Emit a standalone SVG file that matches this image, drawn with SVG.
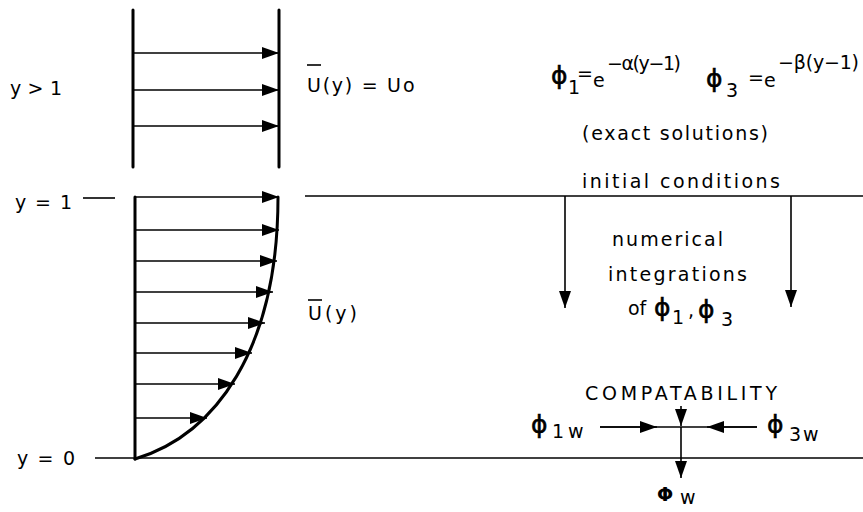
<svg xmlns="http://www.w3.org/2000/svg" width="863" height="512" viewBox="0 0 863 512">
<defs>
<marker id="ah" markerUnits="userSpaceOnUse" markerWidth="18" markerHeight="13" refX="17" refY="6" orient="auto">
<path d="M0,0 L17,6 L0,12 z" fill="#000"/>
</marker>
<style>
text{font-family:"DejaVu Sans","Liberation Sans",sans-serif;fill:#000;font-size:19px}
.phi{font-family:"DejaVu Sans",sans-serif;font-size:25px;stroke:#000;stroke-width:0.6}
.thick{stroke:#000;stroke-width:3;fill:none;stroke-linecap:round}
.thin{stroke:#000;stroke-width:1.6;fill:none}
.arr{stroke:#000;stroke-width:1.6;fill:none;marker-end:url(#ah)}
</style>
</defs>
<rect width="863" height="512" fill="#fff"/>

<g id="upper-region">
<line class="thick" x1="133" y1="10" x2="133" y2="167"/>
<line class="thick" x1="279" y1="10" x2="279" y2="167"/>
<line class="arr" x1="133" y1="53" x2="279" y2="53"/>
<line class="arr" x1="133" y1="90" x2="279" y2="90"/>
<line class="arr" x1="133" y1="126" x2="279" y2="126"/>
<text x="10" y="95" textLength="52" lengthAdjust="spacing">y &gt; 1</text>
<text x="307" y="92" textLength="94" lengthAdjust="spacing">U(y) = U</text><text x="403" y="92" font-size="16">o</text>
<line class="thin" x1="307" y1="65" x2="321" y2="65"/>
</g>

<g id="profile">
<line class="thick" x1="135" y1="197" x2="135" y2="459"/>
<path class="thick" d="M135,459 C215,435 278,350 278,197"/>
<line class="arr" x1="135" y1="197" x2="279" y2="197"/>
<line class="arr" x1="135" y1="230" x2="279" y2="230"/>
<line class="arr" x1="135" y1="261" x2="277" y2="261"/>
<line class="arr" x1="135" y1="292" x2="273" y2="292"/>
<line class="arr" x1="135" y1="323" x2="265" y2="323"/>
<line class="arr" x1="135" y1="353" x2="252" y2="353"/>
<line class="arr" x1="135" y1="384" x2="235" y2="384"/>
<line class="arr" x1="135" y1="418" x2="207" y2="418"/>
<text x="308" y="320" textLength="49" lengthAdjust="spacing">U(y)</text>
<line class="thin" x1="308" y1="300" x2="322" y2="300"/>
</g>

<g id="levels">
<text x="15" y="209" textLength="57" lengthAdjust="spacing">y = 1</text>
<line class="thin" x1="83" y1="198" x2="115" y2="198"/>
<text x="17" y="465" textLength="58" lengthAdjust="spacing">y = 0</text>
<line class="thin" x1="95" y1="458" x2="863" y2="458"/>
<line class="thin" x1="305" y1="196" x2="863" y2="196"/>
</g>

<g id="exact-solutions">
<text class="phi" x="551" y="84">ϕ</text><text x="568" y="94" font-size="14">1</text>
<text x="577" y="80" font-size="13">=</text>
<text x="593" y="87" font-size="21">e</text>
<text x="607" y="70" font-size="17" textLength="74" lengthAdjust="spacing">−α(y−1)</text>
<text class="phi" x="706" y="87">ϕ</text><text x="726" y="97" font-size="17">3</text>
<text x="748" y="84" font-size="13">=</text>
<text x="764" y="87" font-size="21">e</text>
<text x="778" y="69" font-size="17" textLength="81" lengthAdjust="spacing">−β(y−1)</text>
<text x="582" y="140" textLength="186" lengthAdjust="spacing">(exact solutions)</text>
<text x="582" y="188" textLength="198" lengthAdjust="spacing">initial conditions</text>
</g>

<g id="numerical">
<text x="612" y="246" textLength="111" lengthAdjust="spacing">numerical</text>
<text x="608" y="281" textLength="139" lengthAdjust="spacing">integrations</text>
<text x="628" y="315">of</text>
<text class="phi" x="654" y="316">ϕ</text><text x="672" y="324" font-size="14">1</text>
<text x="688" y="317">,</text>
<text class="phi" x="698" y="318">ϕ</text><text x="721" y="326" font-size="17">3</text>
</g>

<g id="compatibility">
<text x="585" y="400" font-size="17" textLength="192" lengthAdjust="spacing">COMPATABILITY</text>
<text class="phi" x="531" y="433">ϕ</text><text x="552" y="438" font-size="16" letter-spacing="4">1w</text>
<text class="phi" x="767" y="433">ϕ</text><text x="789" y="441" font-size="17" letter-spacing="2">3w</text>
<text x="657" y="501" font-size="25" font-weight="bold">Φ</text><text x="680" y="504" font-size="16">w</text>
</g>

<g id="connectors">
<line class="arr" x1="565" y1="196" x2="565" y2="308"/>
<line class="arr" x1="791" y1="196" x2="791" y2="307"/>
<line class="thin" x1="600" y1="427" x2="757" y2="427"/>
<line class="arr" x1="600" y1="427" x2="657" y2="427"/>
<line class="arr" x1="757" y1="427" x2="707" y2="427"/>
<line class="arr" x1="681" y1="406" x2="681" y2="426"/>
<line class="arr" x1="681" y1="427" x2="681" y2="478"/>
</g>
</svg>
